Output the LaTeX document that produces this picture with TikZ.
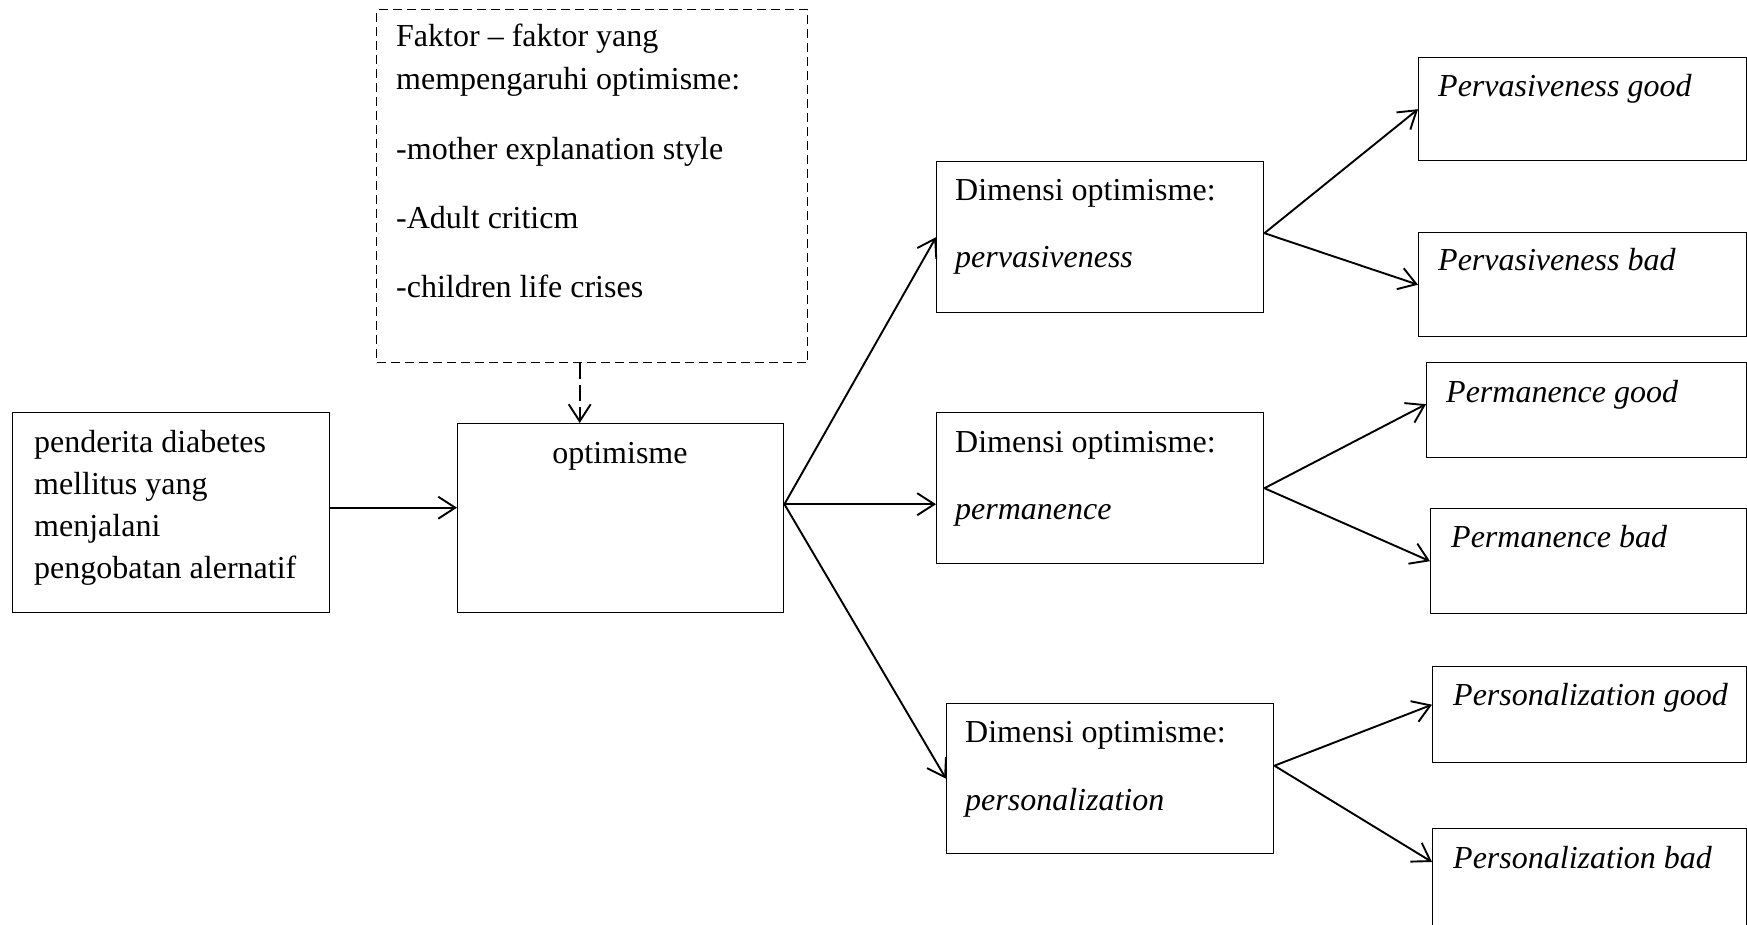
\documentclass[tikz,border=0pt]{standalone}
\usepackage{fontspec}
\setmainfont{Liberation Serif}
\usetikzlibrary{arrows.meta,positioning}

\tikzset{
  kotak/.style={draw, line width=1.4pt, anchor=north west, inner sep=0pt},
  putus/.style={kotak, dash pattern=on 9pt off 5pt},
  teks/.style={anchor=base west, inner sep=0pt, align=left, font=\fontsize{32}{42}\selectfont},
  panah/.style={line width=1.9pt, -{Straight Barb[length=17pt,width=22pt]}},
}

\begin{document}
\begin{tikzpicture}[x=1pt,y=-1pt]
\clip (0,0) rectangle (1747,925);
% kotak kiri (baseline = baris terakhir)
\node[kotak, minimum width=317pt, minimum height=200pt] (pasien) at (12,412) {};
\node[teks] (tpasien) at (34,578) {penderita diabetes\\mellitus yang\\menjalani\\pengobatan alernatif};
% faktor
\node[putus, minimum width=431pt, minimum height=353pt] (faktor) at (376,9) {};
\node[teks, font=\fontsize{32}{43}\selectfont] (tfaktor) at (396,297) {Faktor – faktor yang\\mempengaruhi optimisme:\\[26pt]-mother explanation style\\[26pt]-Adult criticm\\[26pt]-children life crises};
% optimisme
\node[kotak, minimum width=326pt, minimum height=189pt] (opt) at (457,423) {};
\node[teks, anchor=base] (topt) at (620,463) {optimisme};
% dimensi
\node[kotak, minimum width=327pt, minimum height=151pt] (d1) at (936,161) {};
\node[teks] (td1) at (955,268) {Dimensi optimisme:\\[25pt]\textit{pervasiveness}};
\node[kotak, minimum width=327pt, minimum height=151pt] (d2) at (936,412) {};
\node[teks] (td2) at (955,519) {Dimensi optimisme:\\[25pt]\textit{permanence}};
\node[kotak, minimum width=327pt, minimum height=150pt] (d3) at (946,703) {};
\node[teks] (td3) at (965,810) {Dimensi optimisme:\\[26pt]\textit{personalization}};
% good / bad
\node[kotak, minimum width=328pt, minimum height=103pt] (pg) at (1418,57) {};
\node[teks] (tpg) at (1438,97) {\textit{Pervasiveness good}};
\node[kotak, minimum width=328pt, minimum height=104pt] (pb) at (1418,232) {};
\node[teks] (tpb) at (1438,271) {\textit{Pervasiveness bad}};
\node[kotak, minimum width=320pt, minimum height=95pt] (mg) at (1426,362) {};
\node[teks] (tmg) at (1446,402) {\textit{Permanence good}};
\node[kotak, minimum width=316pt, minimum height=105pt] (mb) at (1430,508) {};
\node[teks] (tmb) at (1451,547) {\textit{Permanence bad}};
\node[kotak, minimum width=314pt, minimum height=96pt] (sg) at (1432,666) {};
\node[teks] (tsg) at (1453,705) {\textit{Personalization good}};
\node[kotak, minimum width=314pt, minimum height=140pt] (sb) at (1432,828) {};
\node[teks] (tsb) at (1453,868) {\textit{Personalization bad}};

% panah
\coordinate (turun) at ([xshift=-12.5pt]faktor.south);
\coordinate (cabang) at ([yshift=14pt]opt.east);
\draw[panah] ([yshift=5pt]pasien.east) -- ([yshift=10.5pt]opt.west);
\draw[panah, dash pattern=on 16pt off 6pt] (turun) -- (turun |- opt.north);
\draw[panah] (cabang) -- (d1.west);
\draw[panah] (cabang) -- (cabang -| d2.west);
\draw[panah] (cabang) -- (d3.west);
\draw[panah] ([yshift=4pt]d1.east) -- (pg.west);
\draw[panah] ([yshift=4pt]d1.east) -- (pb.west);
\draw[panah] (d2.east) -- ([yshift=6pt]mg.west);
\draw[panah] (d2.east) -- (mb.west);
\draw[panah] ([yshift=13pt]d3.east) -- ([yshift=10pt]sg.west);
\draw[panah] ([yshift=13pt]d3.east) -- ([yshift=-34pt]sb.north west);
\end{tikzpicture}
\end{document}
